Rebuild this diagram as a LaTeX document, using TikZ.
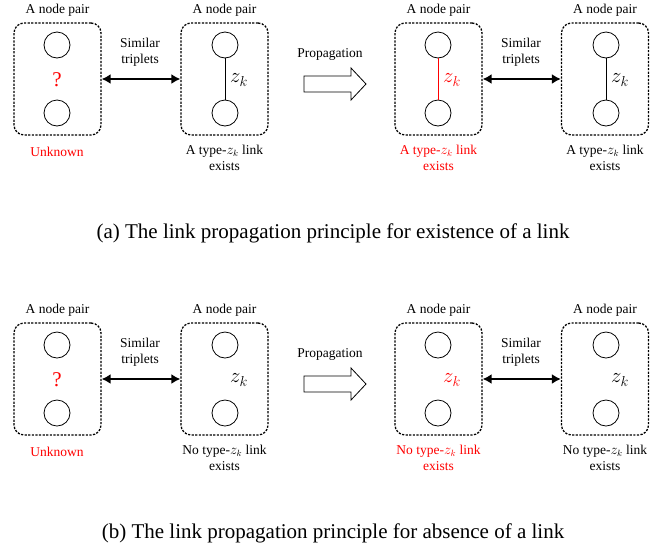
\documentclass[tikz,border=0pt]{standalone}
\usepackage{fontspec}
\setmainfont{Liberation Serif}
\usetikzlibrary{arrows.meta}
\begin{document}
\begin{tikzpicture}[x=1pt,y=-1pt,
 pairbox/.style={draw, dash pattern=on 2.2pt off 1.4pt, line width=1.3pt, rounded corners=10pt, minimum width=87pt, minimum height=112pt, inner sep=0pt},
 vert/.style={draw, circle, minimum size=26pt, inner sep=0pt, line width=0.8pt},
 lbl/.style={font=\fontsize{13.5}{16}\selectfont, align=center, inner sep=0pt},
 zlab/.style={font=\fontsize{21}{22}\selectfont, inner sep=0pt},
 sim/.style={{Latex[length=9pt,width=10pt]}-{Latex[length=9pt,width=10pt]}, line width=1.7pt},
 link/.style={line width=0.8pt},
 proparrow/.style={draw, line width=0.8pt},
 captext/.style={font=\fontsize{21}{24}\selectfont, inner sep=0pt}]
\useasboundingbox (0,0) rectangle (671,550);

% ---------------- row (a) ----------------
\node[pairbox] (a1) at (57.5,79) {};
\node[pairbox] (a2) at (224.5,79) {};
\node[pairbox] (a3) at (438.5,79) {};
\node[pairbox] (a4) at (605,79) {};
\node[lbl] (a1h) at (57.5,10) {A node pair};
\node[lbl] (a2h) at (224.5,10) {A node pair};
\node[lbl] (a3h) at (438.5,10) {A node pair};
\node[lbl] (a4h) at (605,10) {A node pair};
\node[vert] (a1t) at (57,45) {};
\node[vert] (a1b) at (57,113) {};
\node[vert] (a2t) at (225,45) {};
\node[vert] (a2b) at (225,113) {};
\node[vert] (a3t) at (438,45) {};
\node[vert] (a3b) at (438,113) {};
\node[vert] (a4t) at (606,45) {};
\node[vert] (a4b) at (606,113) {};
\node[zlab, text=red] (a1q) at (57,80) {?};
\draw[link] (a2t) -- (a2b);
\draw[link, red] (a3t) -- (a3b);
\draw[link] (a4t) -- (a4b);
\node[zlab] (a2z) at (239,80) {$z_k$};
\node[zlab, text=red] (a3z) at (452,80) {$z_k$};
\node[zlab] (a4z) at (620,80) {$z_k$};
\draw[sim] (a1.east) -- (a2.west);
\draw[sim] (a3.east) -- (a4.west);
\node[lbl] (a12s) at (140,52) {Similar\\triplets};
\node[lbl] (a34s) at (521,52) {Similar\\triplets};
\node[lbl, text=red] (a1u) at (57,152) {Unknown};
\node[lbl] (a2u) at (224.5,158) {A type-$z_k$ link\\exists};
\node[lbl, text=red] (a3u) at (438.5,158) {A type-$z_k$ link\\exists};
\node[lbl] (a4u) at (605,158) {A type-$z_k$ link\\exists};
\node[lbl] (ap) at (330,54) {Propagation};
\coordinate (apa) at (304,84);
\draw[proparrow, shift={(apa)}] (0,-8) -- (47,-8) -- (47,-16) -- (62,0) -- (47,16) -- (47,8) -- (0,8) -- cycle;
\node[captext] (capa) at (333,233) {(a) The link propagation principle for existence of a link};

% ---------------- row (b) ----------------
\node[pairbox] (b1) at (57.5,379) {};
\node[pairbox] (b2) at (224.5,379) {};
\node[pairbox] (b3) at (438.5,379) {};
\node[pairbox] (b4) at (605,379) {};
\node[lbl] (b1h) at (57.5,310) {A node pair};
\node[lbl] (b2h) at (224.5,310) {A node pair};
\node[lbl] (b3h) at (438.5,310) {A node pair};
\node[lbl] (b4h) at (605,310) {A node pair};
\node[vert] (b1t) at (57,345) {};
\node[vert] (b1b) at (57,413) {};
\node[vert] (b2t) at (225,345) {};
\node[vert] (b2b) at (225,413) {};
\node[vert] (b3t) at (438,345) {};
\node[vert] (b3b) at (438,413) {};
\node[vert] (b4t) at (606,345) {};
\node[vert] (b4b) at (606,413) {};
\node[zlab, text=red] (b1q) at (57,380) {?};
\node[zlab] (b2z) at (239,380) {$z_k$};
\node[zlab, text=red] (b3z) at (452,380) {$z_k$};
\node[zlab] (b4z) at (620,380) {$z_k$};
\draw[sim] (b1.east) -- (b2.west);
\draw[sim] (b3.east) -- (b4.west);
\node[lbl] (b12s) at (140,352) {Similar\\triplets};
\node[lbl] (b34s) at (521,352) {Similar\\triplets};
\node[lbl, text=red] (b1u) at (57,452) {Unknown};
\node[lbl] (b2u) at (224.5,458) {No type-$z_k$ link\\exists};
\node[lbl, text=red] (b3u) at (438.5,458) {No type-$z_k$ link\\exists};
\node[lbl] (b4u) at (605,458) {No type-$z_k$ link\\exists};
\node[lbl] (bp) at (330,354) {Propagation};
\coordinate (bpa) at (304,384);
\draw[proparrow, shift={(bpa)}] (0,-8) -- (47,-8) -- (47,-16) -- (62,0) -- (47,16) -- (47,8) -- (0,8) -- cycle;
\node[captext] (capb) at (333,533) {(b) The link propagation principle for absence of a link};
\end{tikzpicture}
\end{document}
